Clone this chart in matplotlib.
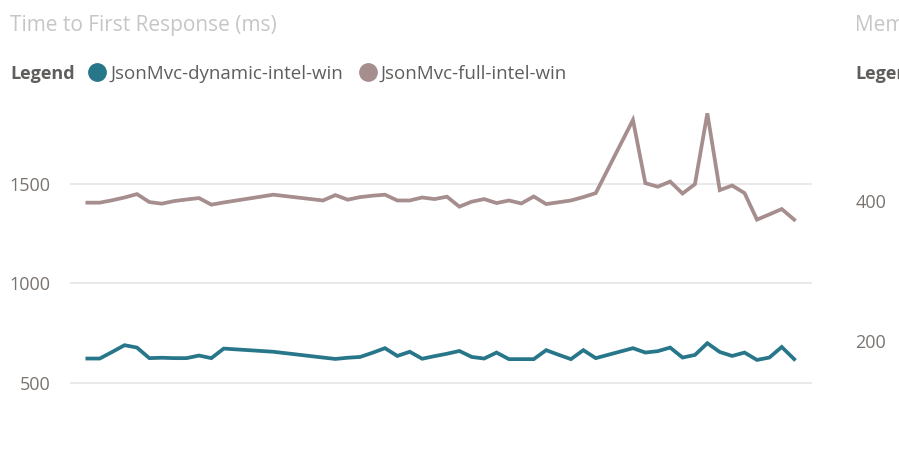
import matplotlib
matplotlib.use('Agg')
from matplotlib import pyplot as plt
from matplotlib.lines import Line2D

plt.rcParams['font.family'] = ['Open Sans', 'DejaVu Sans']

# day index of each run (gaps = days without runs)
days = [0, 1, 2, 3, 4, 5, 6, 7, 8, 9, 10, 11, 15, 19, 20, 21, 22, 23, 24, 25,
        26, 27, 28, 29, 30, 31, 32, 33, 34, 35, 36, 37, 38, 39, 40, 41, 44, 45,
        46, 47, 48, 49, 50, 51, 52, 53, 54, 55, 56, 57]

dynamic_ms = [623, 623, 656, 690, 678, 625, 627, 625, 625, 638, 625, 673, 657, 628,
              621, 627, 631, 652, 675, 636, 657, 622, 635, 647, 661, 631, 623, 653,
              620, 620, 620, 665, 642, 620, 665, 625, 675, 653, 660, 678, 628, 641,
              700, 656, 636, 653, 616, 628, 681, 620]

full_ms = [1405, 1405, 1417, 1431, 1448, 1408, 1400, 1413, 1421, 1428, 1395, 1406,
           1445, 1416, 1443, 1420, 1433, 1440, 1445, 1416, 1416, 1431, 1423, 1435,
           1385, 1410, 1423, 1403, 1416, 1401, 1436, 1398, 1407, 1416, 1433, 1453,
           1820, 1503, 1485, 1511, 1451, 1498, 1853, 1468, 1491, 1453, 1320, 1346,
           1373, 1320]

series_names = ['JsonMvc-dynamic-intel-win', 'JsonMvc-full-intel-win']
colors = ['#28768a', '#a68e8e']
yticks = [500, 1000, 1500]
mem_ticks = [200, 400]

W, H = 899, 462
fig = plt.figure(figsize=(W / 100, H / 100), dpi=100)

def box(x0, y0, x1, y1):
    return [x0 / W, 1 - y1 / H, (x1 - x0) / W, (y1 - y0) / H]

ax = fig.add_axes(box(70, 105, 812, 400))
ax.plot(days, dynamic_ms, color=colors[0], lw=2.7, solid_joinstyle='miter')
ax.plot(days, full_ms, color=colors[1], lw=2.7, solid_joinstyle='miter')
ax.set_xlim(-1.4, 58.44)
ax.set_ylim(415, 1895)
ax.set_yticks(yticks)
ax.set_xticks([])
ax.grid(axis='y', color='#e9e9e9', lw=1.4)
ax.set_axisbelow(True)
for s in ax.spines.values():
    s.set_visible(False)
ax.tick_params(axis='y', length=0, pad=14, labelsize=13, labelcolor='#7a7470')

# partial neighbour chart cut off at the right edge
ax2 = fig.add_axes(box(900, 105, 1200, 400))
ax2.set_ylim(115.7, 537.1)
ax2.set_yticks(mem_ticks)
ax2.set_xticks([])
for s in ax2.spines.values():
    s.set_visible(False)
ax2.tick_params(axis='y', length=0, pad=10, labelsize=13, labelcolor='#7a7470')

fig.text(10 / W, 1 - 26 / H, 'Time to First Response (ms)', fontsize=15,
         color='#c8c6c4', va='center', ha='left')
fig.text(855 / W, 1 - 26 / H, 'Memory Usage (MB)', fontsize=15,
         color='#c8c6c4', va='center', ha='left')
fig.text(10 / W, 1 - 74 / H, 'Legend', fontsize=13, fontweight='bold',
         color='#605e5c', va='center', ha='left')
fig.text(855 / W, 1 - 74 / H, 'Legend', fontsize=13, fontweight='bold',
         color='#605e5c', va='center', ha='left')

handles = [Line2D([], [], ls='none', marker='o', ms=12.5, color=c) for c in colors]
fig.legend(handles, series_names, loc='center left',
           bbox_to_anchor=(88 / W, 1 - 74 / H), ncol=2, frameon=False,
           handlelength=1.0, handletextpad=0.2, columnspacing=0.8,
           borderaxespad=0, borderpad=0,
           prop={'size': 13.5}, labelcolor='#605e5c')

fig.savefig('out.png', dpi=100)
